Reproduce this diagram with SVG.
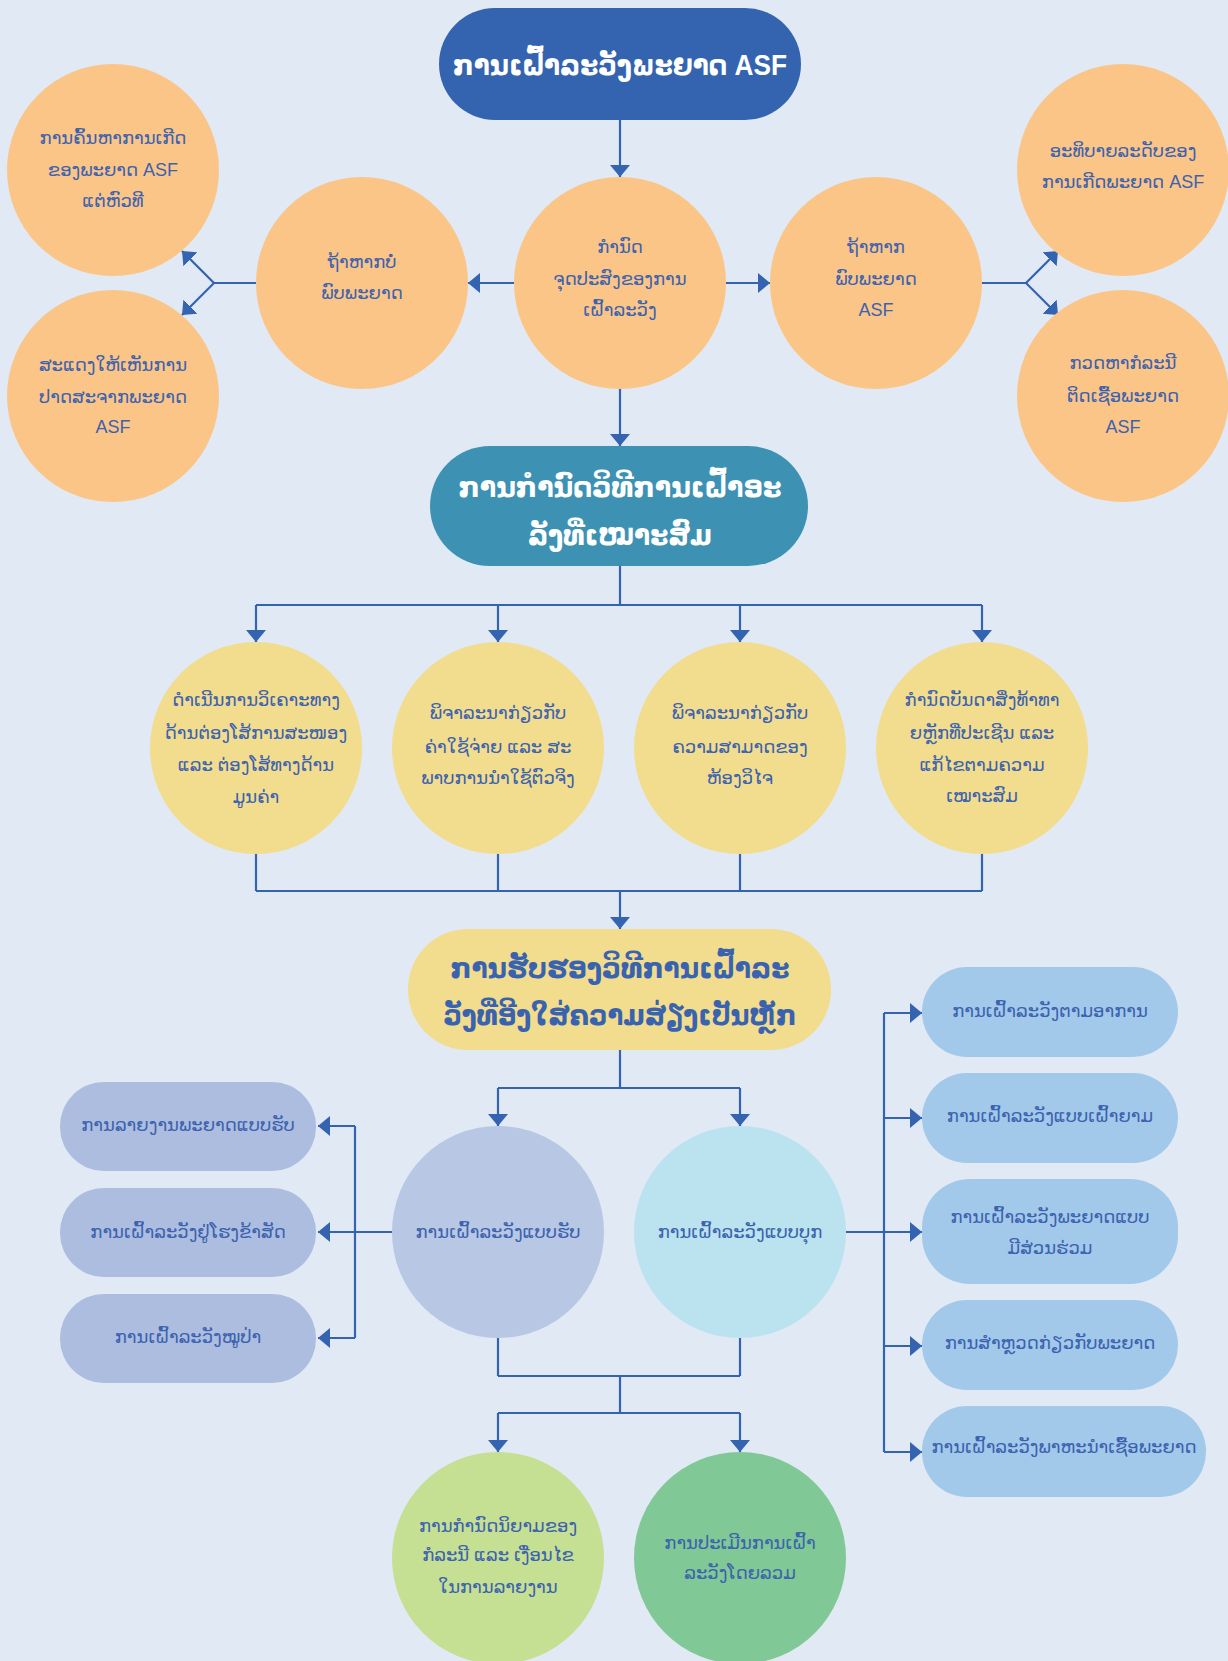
<svg xmlns="http://www.w3.org/2000/svg" width="1228" height="1661" viewBox="0 0 1228 1661">
<defs>
<marker id="ah" markerUnits="userSpaceOnUse" markerWidth="12" markerHeight="20" viewBox="0 0 12 20" refX="12" refY="10" orient="auto">
<path d="M0,0 L12,10 L0,20 Z" fill="#3463B0"/>
</marker>
<style>
.bg{fill:#E1E9F5}
.ln{fill:none;stroke:#3463B0;stroke-width:2.2}
.ar{marker-end:url(#ah)}
.t{font-family:"Liberation Sans","DejaVu Sans",sans-serif;font-size:18px;fill:#3B62AE;text-anchor:middle;dominant-baseline:central}
.h{font-family:"Liberation Sans","DejaVu Sans",sans-serif;font-size:29px;font-weight:bold;text-anchor:middle;dominant-baseline:central}
.w{fill:#FFFFFF}
.b{fill:#3A63AF}
.or{fill:#FBC588}
.ye{fill:#F2DC8E}
.lb{fill:#ADBDE0}
.rb{fill:#A2C8EA}
</style>
</defs>
<rect class="bg" x="0" y="0" width="1228" height="1661"/>

<g id="connectors">
<path class="ln ar" d="M620,120 V177"/>
<path class="ln ar" d="M514,283 H468"/>
<path class="ln ar" d="M726,283 H770"/>
<path class="ln ar" d="M620,389 V446"/>
<path class="ln" d="M256,283 H214"/>
<path class="ln ar" d="M214,283 L182,251"/>
<path class="ln ar" d="M214,283 L182,315"/>
<path class="ln" d="M982,283 H1026"/>
<path class="ln ar" d="M1026,283 L1058,251"/>
<path class="ln ar" d="M1026,283 L1058,315"/>
<path class="ln" d="M620,566 V605 M256,605 H982"/>
<path class="ln ar" d="M256,605 V642"/>
<path class="ln ar" d="M498,605 V642"/>
<path class="ln ar" d="M740,605 V642"/>
<path class="ln ar" d="M982,605 V642"/>
<path class="ln" d="M256,854 V891 M498,854 V891 M740,854 V891 M982,854 V891 M256,891 H982"/>
<path class="ln ar" d="M620,891 V929"/>
<path class="ln" d="M620,1050 V1088 M498,1088 H740"/>
<path class="ln ar" d="M498,1088 V1126"/>
<path class="ln ar" d="M740,1088 V1126"/>
<path class="ln" d="M392,1232 H355 M355,1126 V1338"/>
<path class="ln ar" d="M355,1126 H318"/>
<path class="ln ar" d="M355,1232 H318"/>
<path class="ln ar" d="M355,1338 H318"/>
<path class="ln" d="M884,1013 V1452"/>
<path class="ln ar" d="M846,1232 H922"/>
<path class="ln ar" d="M884,1013 H922"/>
<path class="ln ar" d="M884,1118 H922"/>
<path class="ln ar" d="M884,1346 H922"/>
<path class="ln ar" d="M884,1452 H922"/>
<path class="ln" d="M498,1338 V1376 M740,1338 V1376 M498,1376 H740 M620,1376 V1413 M498,1413 H740"/>
<path class="ln ar" d="M498,1413 V1452"/>
<path class="ln ar" d="M740,1413 V1452"/>
</g>

<g id="title">
<rect x="439" y="8" width="362" height="112" rx="56" fill="#3464AF"/>
<text class="h w" x="620" y="65" textLength="334" lengthAdjust="spacingAndGlyphs">ການເຝົ້າລະວັງພະຍາດ ASF</text>
</g>
<g id="purpose">
<circle class="or" cx="620" cy="283" r="106"/>
<text class="t" x="620" y="247">ກຳນົດ</text>
<text class="t" x="620" y="279">ຈຸດປະສົງຂອງການ</text>
<text class="t" x="620" y="310">ເຝົ້າລະວັງ</text>
</g>
<g id="notfound">
<circle class="or" cx="362" cy="283" r="106"/>
<text class="t" x="362" y="262">ຖ້າຫາກບໍ່</text>
<text class="t" x="362" y="293">ພົບພະຍາດ</text>
</g>
<g id="found">
<circle class="or" cx="876" cy="283" r="106"/>
<text class="t" x="876" y="247">ຖ້າຫາກ</text>
<text class="t" x="876" y="279">ພົບພະຍາດ</text>
<text class="t" x="876" y="310">ASF</text>
</g>
<g id="early">
<circle class="or" cx="113" cy="170" r="106"/>
<text class="t" x="113" y="138">ການຄົ້ນຫາການເກີດ</text>
<text class="t" x="113" y="170">ຂອງພະຍາດ ASF</text>
<text class="t" x="113" y="201">ແຕ່ຫົວທີ</text>
</g>
<g id="freedom">
<circle class="or" cx="113" cy="396" r="106"/>
<text class="t" x="113" y="365">ສະແດງໃຫ້ເຫັນການ</text>
<text class="t" x="113" y="397">ປາດສະຈາກພະຍາດ</text>
<text class="t" x="113" y="427">ASF</text>
</g>
<g id="describe">
<circle class="or" cx="1123" cy="170" r="106"/>
<text class="t" x="1123" y="151">ອະທິບາຍລະດັບຂອງ</text>
<text class="t" x="1123" y="182">ການເກີດພະຍາດ ASF</text>
</g>
<g id="detect">
<circle class="or" cx="1123" cy="396" r="106"/>
<text class="t" x="1123" y="363">ກວດຫາກໍລະນີ</text>
<text class="t" x="1123" y="396">ຕິດເຊື້ອພະຍາດ</text>
<text class="t" x="1123" y="427">ASF</text>
</g>

<g id="method">
<rect x="430" y="446" width="378" height="120" rx="60" fill="#3D92B4"/>
<text class="h w" x="620" y="487" textLength="323" lengthAdjust="spacingAndGlyphs">ການກຳນົດວິທີການເຝົ້າອະ</text>
<text class="h w" x="620" y="535" textLength="184" lengthAdjust="spacingAndGlyphs">ລັງທີ່ເໝາະສົມ</text>
</g>

<g id="valuechain">
<circle class="ye" cx="256" cy="748" r="106"/>
<text class="t" x="256" y="700">ດຳເນີນການວິເຄາະທາງ</text>
<text class="t" x="256" y="733">ດ້ານຕ່ອງໂສ້ການສະໜອງ</text>
<text class="t" x="256" y="765">ແລະ ຕ່ອງໂສ້ທາງດ້ານ</text>
<text class="t" x="256" y="797">ມູນຄ່າ</text>
</g>
<g id="cost">
<circle class="ye" cx="498" cy="748" r="106"/>
<text class="t" x="498" y="713">ພິຈາລະນາກ່ຽວກັບ</text>
<text class="t" x="498" y="747">ຄ່າໃຊ້ຈ່າຍ ແລະ ສະ</text>
<text class="t" x="498" y="778">ພາບການນຳໃຊ້ຕົວຈິງ</text>
</g>
<g id="lab">
<circle class="ye" cx="740" cy="748" r="106"/>
<text class="t" x="740" y="713">ພິຈາລະນາກ່ຽວກັບ</text>
<text class="t" x="740" y="747">ຄວາມສາມາດຂອງ</text>
<text class="t" x="740" y="778">ຫ້ອງວິໄຈ</text>
</g>
<g id="challenges">
<circle class="ye" cx="982" cy="748" r="106"/>
<text class="t" x="982" y="700">ກຳນົດບັນດາສິ່ງທ້າທາ</text>
<text class="t" x="982" y="733">ຍຫຼັກທີ່ປະເຊີນ ແລະ</text>
<text class="t" x="982" y="765">ແກ້ໄຂຕາມຄວາມ</text>
<text class="t" x="982" y="796">ເໝາະສົມ</text>
</g>

<g id="riskbased">
<rect class="ye" x="408" y="929" width="423" height="121" rx="60"/>
<text class="h b" x="620" y="968" textLength="339" lengthAdjust="spacingAndGlyphs">ການຮັບຮອງວິທີການເຝົ້າລະ</text>
<text class="h b" x="620" y="1015" textLength="353" lengthAdjust="spacingAndGlyphs">ວັງທີ່ອີງໃສ່ຄວາມສ່ຽງເປັນຫຼັກ</text>
</g>

<g id="passive">
<circle cx="498" cy="1232" r="106" fill="#B8C7E4"/>
<text class="t" x="498" y="1232">ການເຝົ້າລະວັງແບບຮັບ</text>
</g>
<g id="active">
<circle cx="740" cy="1232" r="106" fill="#BAE3EF"/>
<text class="t" x="740" y="1232">ການເຝົ້າລະວັງແບບບຸກ</text>
</g>

<g id="passive-report">
<rect class="lb" x="60" y="1082" width="256" height="89" rx="44"/>
<text class="t" x="188" y="1125">ການລາຍງານພະຍາດແບບຮັບ</text>
</g>
<g id="slaughter">
<rect class="lb" x="60" y="1188" width="256" height="89" rx="44"/>
<text class="t" x="188" y="1232">ການເຝົ້າລະວັງຢູ່ໂຮງຂ້າສັດ</text>
</g>
<g id="wildboar">
<rect class="lb" x="60" y="1294" width="256" height="89" rx="44"/>
<text class="t" x="188" y="1337">ການເຝົ້າລະວັງໝູປ່າ</text>
</g>

<g id="syndromic">
<rect class="rb" x="922" y="967" width="256" height="90" rx="45"/>
<text class="t" x="1050" y="1011">ການເຝົ້າລະວັງຕາມອາການ</text>
</g>
<g id="sentinel">
<rect class="rb" x="922" y="1073" width="256" height="90" rx="45"/>
<text class="t" x="1050" y="1116">ການເຝົ້າລະວັງແບບເຝົ້າຍາມ</text>
</g>
<g id="participatory">
<rect class="rb" x="922" y="1179" width="256" height="105" rx="48"/>
<text class="t" x="1050" y="1217">ການເຝົ້າລະວັງພະຍາດແບບ</text>
<text class="t" x="1050" y="1248">ມີສ່ວນຮ່ວມ</text>
</g>
<g id="survey">
<rect class="rb" x="922" y="1300" width="256" height="90" rx="45"/>
<text class="t" x="1050" y="1343">ການສຳຫຼວດກ່ຽວກັບພະຍາດ</text>
</g>
<g id="vector">
<rect class="rb" x="922" y="1406" width="284" height="91" rx="45"/>
<text class="t" x="1064" y="1447">ການເຝົ້າລະວັງພາຫະນຳເຊື້ອພະຍາດ</text>
</g>

<g id="casedef">
<circle cx="498" cy="1558" r="106" fill="#C5DF93"/>
<text class="t" x="498" y="1526">ການກຳນົດນິຍາມຂອງ</text>
<text class="t" x="498" y="1555">ກໍລະນີ ແລະ ເງື່ອນໄຂ</text>
<text class="t" x="498" y="1587">ໃນການລາຍງານ</text>
</g>
<g id="evaluation">
<circle cx="740" cy="1558" r="106" fill="#80C895"/>
<text class="t" x="740" y="1543">ການປະເມີນການເຝົ້າ</text>
<text class="t" x="740" y="1573">ລະວັງໂດຍລວມ</text>
</g>
</svg>
